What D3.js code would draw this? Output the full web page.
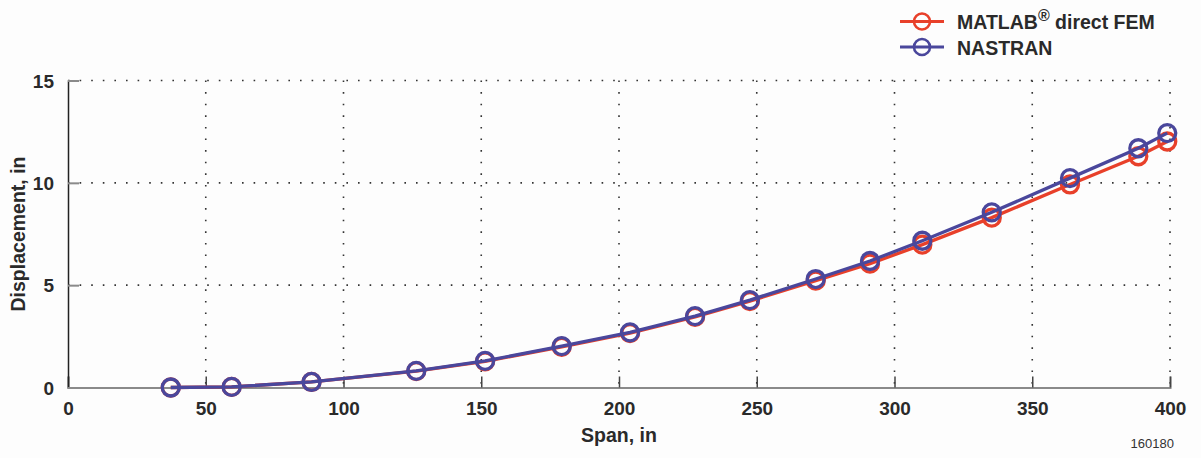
<!DOCTYPE html>
<html>
<head>
<meta charset="utf-8">
<script src="https://cdn.jsdelivr.net/npm/d3@7"></script>
<style>
  html, body { margin: 0; padding: 0; background: #fdfdfd; }
  svg { display: block; font-family: "Liberation Sans", Arial, Helvetica, sans-serif; }
</style>
</head>
<body>
<svg id="chart" width="1201" height="458"></svg>
<script>
// Span stations (in) along the wing
const span = [37.3, 59.4, 88.4, 126.4, 151.4, 179.2, 204.0, 227.6, 247.5, 271.4, 291.1, 310.1, 335.3, 363.7, 388.5, 399.0];
// Tip displacement (in) from each solver
const matlabFem = [0, 0.03, 0.27, 0.80, 1.28, 1.99, 2.66, 3.45, 4.22, 5.22, 6.05, 6.98, 8.30, 9.92, 11.30, 12.02];
const nastran   = [0, 0.03, 0.27, 0.81, 1.30, 2.02, 2.69, 3.49, 4.27, 5.30, 6.18, 7.17, 8.56, 10.23, 11.69, 12.43];
const xTicks = [0, 50, 100, 150, 200, 250, 300, 350, 400];
const yTicks = [0, 5, 10, 15];

const svg = d3.select("#chart");
const plotLeft = 68, plotRight = 1170, plotTop = 80.5, plotBottom = 387.5;

const x = d3.scaleLinear().domain([0, 400]).range([plotLeft, plotRight]);
const y = d3.scaleLinear().domain([0, 15]).range([plotBottom, plotTop]);

// Dotted grid
const grid = svg.append("g");
grid.selectAll("line.v").data(xTicks.filter(d => d > 0)).join("line")
  .attr("x1", d => x(d)).attr("x2", d => x(d))
  .attr("y1", plotTop).attr("y2", plotBottom)
  .attr("stroke", "#333").attr("stroke-width", 1.6)
  .attr("stroke-dasharray", "1.6,10").attr("stroke-linecap", "butt");
grid.selectAll("line.h").data(yTicks.filter(d => d > 0)).join("line")
  .attr("x1", plotLeft).attr("x2", plotRight)
  .attr("y1", d => y(d)).attr("y2", d => y(d))
  .attr("stroke", "#333").attr("stroke-width", 1.6)
  .attr("stroke-dasharray", "1.6,10");

// Axes
const xAxis = svg.append("g").attr("transform", `translate(0,${plotBottom})`)
  .call(d3.axisBottom(x).tickValues(xTicks).tickSize(-11).tickPadding(22));
xAxis.select(".domain").attr("stroke", "#8a8a8a").attr("stroke-width", 2);
xAxis.selectAll(".tick line").attr("stroke", "#444").attr("stroke-width", 1.5);
xAxis.selectAll(".tick text").attr("font-size", 19).attr("font-weight", "bold")
  .attr("fill", "#2a2a2a").attr("dy", "0").attr("y", 27);

const yAxis = svg.append("g").attr("transform", `translate(${plotLeft},0)`)
  .call(d3.axisLeft(y).tickValues(yTicks).tickSize(-11).tickPadding(14));
yAxis.select(".domain").attr("stroke", "#222").attr("stroke-width", 1.5);
yAxis.selectAll(".tick line").attr("stroke", "#8a8a8a").attr("stroke-width", 2);
yAxis.selectAll(".tick text").attr("font-size", 19).attr("font-weight", "bold")
  .attr("fill", "#2a2a2a").attr("x", -14).attr("dy", "0.35em");

// Axis titles
svg.append("text").attr("x", x(200)).attr("y", 442)
  .attr("text-anchor", "middle").attr("font-size", 19.5).attr("font-weight", "bold")
  .attr("fill", "#2a2a2a").text("Span, in");
svg.append("text").attr("transform", `translate(25,${y(7.5)}) rotate(-90)`)
  .attr("text-anchor", "middle").attr("font-size", 19.5).attr("font-weight", "bold")
  .attr("fill", "#2a2a2a").text("Displacement, in");
svg.append("text").attr("x", 1174).attr("y", 448).attr("text-anchor", "end")
  .attr("font-size", 13).attr("fill", "#333").text("160180");

// Series
const series = [
  { name: "MATLAB", values: matlabFem, color: "#e8402a" },
  { name: "NASTRAN", values: nastran, color: "#4a479c" }
];
const line = d3.line().x((d, i) => x(span[i])).y(d => y(d));
series.forEach(s => {
  const g = svg.append("g");
  g.append("path").datum(s.values).attr("d", line)
    .attr("fill", "none").attr("stroke", s.color).attr("stroke-width", 3.3)
    .attr("stroke-linejoin", "round");
  g.selectAll("circle").data(s.values).join("circle")
    .attr("cx", (d, i) => x(span[i])).attr("cy", d => y(d)).attr("r", 8.5)
    .attr("fill", "none").attr("stroke", s.color).attr("stroke-width", 3.3);
});

// Legend
const legend = svg.append("g");
const legendRows = [
  { color: "#e8402a", yy: 21.5 },
  { color: "#4a479c", yy: 47 }
];
legendRows.forEach(r => {
  legend.append("line").attr("x1", 900).attr("x2", 944).attr("y1", r.yy).attr("y2", r.yy)
    .attr("stroke", r.color).attr("stroke-width", 3);
  legend.append("circle").attr("cx", 922).attr("cy", r.yy).attr("r", 8)
    .attr("fill", "none").attr("stroke", r.color).attr("stroke-width", 2.6);
});
const t1 = legend.append("text").attr("x", 957).attr("y", 28.5).attr("font-size", 19.5)
  .attr("font-weight", "bold").attr("fill", "#2a2a2a");
t1.append("tspan").text("MATLAB");
t1.append("tspan").attr("dy", -8).attr("font-size", 16).text("®");
t1.append("tspan").attr("dy", 8).text(" direct FEM");
legend.append("text").attr("x", 957).attr("y", 55).attr("font-size", 19.5)
  .attr("font-weight", "bold").attr("fill", "#2a2a2a").text("NASTRAN");
</script>
</body>
</html>
